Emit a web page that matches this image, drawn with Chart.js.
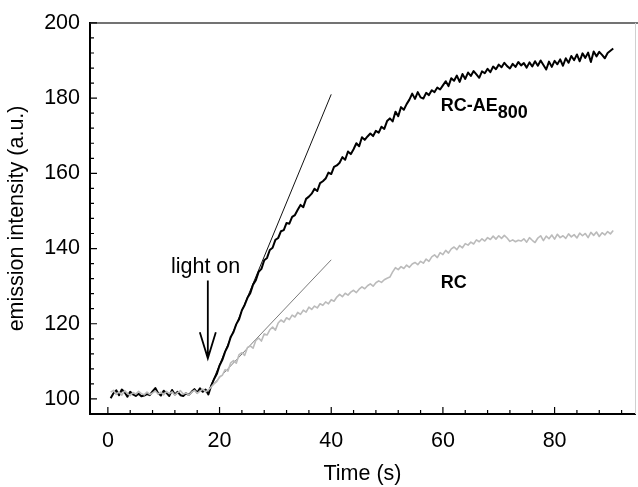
<!DOCTYPE html>
<html>
<head>
<meta charset="utf-8">
<script src="https://cdn.jsdelivr.net/npm/chart.js@4.4.1/dist/chart.umd.min.js"></script>
<style>
  html, body { margin: 0; padding: 0; background: #fff; }
</style>
</head>
<body>
<canvas id="emissionChart" width="638" height="487"></canvas>
<script>
// emission intensity (a.u.), one reading every 0.5 s starting at 0.5 s
const rcAE800 = [
    100.2, 101.5, 102.3, 101.0, 102.5, 101.8, 100.6, 101.9, 101.2, 100.8,
    101.4, 100.7, 100.9, 101.3, 101.0, 102.0, 102.9, 101.5, 100.9, 102.2,
    101.6, 100.8, 102.4, 101.2, 101.9, 101.0, 100.8, 101.5, 101.1, 101.9,
    102.6, 101.7, 102.8, 101.9, 102.5, 101.2, 103.5, 105.2, 106.6, 108.9,
    110.4, 112.6, 114.1, 116.5, 117.8, 119.9, 121.2, 123.6, 125.0, 126.9,
    128.1, 130.4, 131.6, 133.8, 134.6, 136.9, 137.5, 139.6, 140.2, 142.3,
    142.8, 144.6, 144.9, 146.8, 146.6, 148.4, 148.9, 150.3, 151.6, 151.0,
    153.2, 153.8, 154.6, 155.9, 155.3, 157.4, 157.9, 158.6, 160.2, 159.8,
    161.7, 162.1, 162.8, 164.3, 163.6, 165.8, 165.1, 166.4, 168.0, 167.2,
    169.6, 168.9, 169.8, 170.6, 169.9, 171.3, 170.8, 172.4, 171.8, 173.9,
    174.6, 173.8, 176.4, 175.2, 177.6, 176.9, 178.4, 179.6, 181.2, 179.8,
    181.6, 180.2, 179.9, 181.4, 180.8, 182.1, 181.6, 182.8, 182.3, 183.4,
    184.5, 183.2, 185.3, 184.6, 186.0, 184.3, 186.4, 185.1, 186.8, 185.9,
    187.2, 186.3, 185.4, 187.1, 186.6, 187.8, 186.9, 188.4, 187.7, 188.9,
    188.2, 189.4, 188.5, 187.9, 189.1, 188.3, 189.6, 188.7, 189.3, 188.1,
    189.5, 188.4, 189.8, 188.6, 190.0, 188.8, 187.6, 189.7, 188.3, 189.9,
    189.0, 190.3, 188.6, 190.6, 189.4, 191.2, 190.1, 191.6, 189.8, 191.9,
    190.7, 192.1, 189.6, 192.4, 191.1, 192.3, 191.5, 190.6, 192.0, 192.6,
    193.2
];
const rc = [
    101.8, 102.3, 101.2, 101.9, 101.0, 102.2, 101.5, 100.9, 101.7, 101.3,
    102.0, 101.4, 101.1, 101.8, 101.2, 101.6, 102.1, 101.3, 101.8, 101.1,
    102.0, 101.4, 101.9, 101.0, 101.7, 102.2, 101.3, 101.6, 101.0, 101.8,
    102.3, 101.5, 102.1, 102.6, 101.9, 102.4, 103.2, 104.0, 104.6, 105.9,
    106.3, 107.8, 107.4, 109.6, 110.2, 109.5, 111.8, 112.3, 111.6, 113.7,
    114.1, 113.5, 115.6, 116.2, 115.4, 117.3, 117.0, 118.4, 119.1, 118.3,
    120.2, 121.0, 120.4, 121.6, 121.1, 122.3, 121.8, 123.0, 122.5, 123.6,
    123.1, 124.4, 123.8, 124.7, 124.2, 125.3, 124.9, 125.8, 125.3, 126.4,
    126.0, 127.1, 127.8, 127.2, 128.1, 127.6, 128.4, 128.9, 128.3, 129.2,
    129.8, 129.3, 130.1, 130.6, 130.0, 130.9, 131.4, 131.0, 131.7, 132.1,
    132.4, 133.8, 134.9, 134.4, 135.2, 134.7, 135.6, 135.0, 135.9, 136.3,
    135.7, 136.6, 136.1, 137.2, 136.6, 137.8, 138.3, 137.6, 138.9, 138.4,
    139.5, 138.8, 139.9, 140.4, 139.7, 140.8, 140.2, 141.3, 140.9, 141.7,
    141.2, 142.3, 141.8, 142.6, 142.0, 142.9, 142.4, 143.3, 142.5, 143.4,
    142.7, 143.5, 142.8, 141.9, 142.3, 141.8, 142.2, 142.0, 142.6, 141.7,
    142.9, 142.2, 141.6, 142.8, 143.4, 142.1, 143.3, 142.6, 143.6, 142.5,
    143.8, 142.9, 143.4, 142.7, 143.9, 143.1, 143.7, 142.8, 144.1, 143.4,
    144.0, 142.9, 144.3, 143.5, 144.4, 143.2, 144.2, 143.6, 144.5, 143.9,
    144.8
];
const time = rcAE800.map((_, i) => 0.5 + i * 0.5);

// initial slopes (two end points each)
const fitTime = [18.3, 40];
const fitAE800 = [103, 181];
const fitRC = [103, 137];

// annotations, in data units
const arrowX = 17.9, arrowTop = 131.5, arrowTip = 110.8;
const lightOnAt = [17.5, 133.6];
const labelAE800At = [59.6, 176.5];
const labelRCAt = [59.6, 129.4];

const FONT = '"Liberation Sans", Arial, sans-serif';
const SIZE = 21.5;

const toXY = (xs, ys) => xs.map((x, i) => ({ x: x, y: ys[i] }));

const decorations = {
    id: 'decorations',
    afterDraw(chart) {
        const { ctx, chartArea: a, scales: { x, y } } = chart;
        ctx.save();
        // frame: top and right
        ctx.strokeStyle = '#444';
        ctx.lineWidth = 1.5;
        ctx.beginPath();
        ctx.moveTo(a.left, a.top);
        ctx.lineTo(chart.width, a.top);
        ctx.stroke();
        ctx.strokeStyle = '#d0d0d0';
        ctx.lineWidth = 1;
        ctx.beginPath();
        ctx.moveTo(a.right + 0.5, a.top);
        ctx.lineTo(a.right + 0.5, a.bottom);
        ctx.stroke();

        // inside ticks, major every 20, minor every 4
        ctx.strokeStyle = '#000';
        ctx.lineWidth = 1.2;
        ctx.beginPath();
        for (let v = 0; v <= 92; v += 4) {
            const px = x.getPixelForValue(v);
            const len = v % 20 === 0 ? 7 : 4;
            ctx.moveTo(px, a.bottom);
            ctx.lineTo(px, a.bottom - len);
        }
        for (let v = 100; v <= 200; v += 4) {
            const py = y.getPixelForValue(v);
            const len = v % 20 === 0 ? 7 : 4;
            ctx.moveTo(a.left, py);
            ctx.lineTo(a.left + len, py);
        }
        ctx.stroke();

        // arrow
        const ax = x.getPixelForValue(arrowX);
        const aTop = y.getPixelForValue(arrowTop);
        const aTip = y.getPixelForValue(arrowTip);
        ctx.lineWidth = 1.8;
        ctx.beginPath();
        ctx.moveTo(ax, aTop);
        ctx.lineTo(ax, aTip);
        ctx.moveTo(ax - 8, aTip - 26);
        ctx.lineTo(ax, aTip);
        ctx.lineTo(ax + 8, aTip - 26);
        ctx.stroke();

        // texts
        ctx.fillStyle = '#000';
        ctx.textBaseline = 'alphabetic';
        ctx.font = SIZE + 'px ' + FONT;
        ctx.textAlign = 'center';
        ctx.fillText('light on', x.getPixelForValue(lightOnAt[0]), y.getPixelForValue(lightOnAt[1]));

        ctx.textAlign = 'left';
        ctx.font = 'bold 18px ' + FONT;
        const lx = x.getPixelForValue(labelAE800At[0]);
        const ly = y.getPixelForValue(labelAE800At[1]);
        ctx.fillText('RC-AE', lx, ly);
        const w = ctx.measureText('RC-AE').width;
        ctx.fillText('800', lx + w, ly + 7);
        ctx.fillText('RC', x.getPixelForValue(labelRCAt[0]), y.getPixelForValue(labelRCAt[1]));
        ctx.restore();
    }
};

const ctx = document.getElementById('emissionChart');
const emissionChart = new Chart(ctx, {
    type: 'line',
    data: {
        datasets: [{
            label: 'RC',
            data: toXY(time, rc),
            borderColor: '#bbbbbb',
            borderWidth: 1.6
        }, {
            label: 'RC-AE800',
            data: toXY(time, rcAE800),
            borderColor: '#000',
            borderWidth: 2
        }, {
            label: 'RC slope',
            data: toXY(fitTime, fitRC),
            borderColor: '#7a7a7a',
            borderWidth: 1
        }, {
            label: 'RC-AE800 slope',
            data: toXY(fitTime, fitAE800),
            borderColor: '#111',
            borderWidth: 1
        }]
    },
    plugins: [decorations],
    options: {
        responsive: false,
        animation: false,
        layout: { padding: { top: 21, right: 3, bottom: 0, left: 0 } },
        elements: {
            point: { radius: 0 },
            line: { tension: 0, borderJoinStyle: 'round' }
        },
        plugins: {
            legend: { display: false },
            tooltip: { enabled: false }
        },
        scales: {
            x: {
                type: 'linear',
                min: -3.2,
                max: 94.4,
                grid: { display: false, drawTicks: false },
                border: { color: '#000', width: 2 },
                ticks: {
                    stepSize: 20,
                    includeBounds: false,
                    padding: 14,
                    color: '#000',
                    font: { family: FONT, size: SIZE }
                },
                title: {
                    display: true,
                    text: 'Time (s)',
                    color: '#000',
                    font: { family: FONT, size: SIZE },
                    padding: { top: 0, bottom: 0 }
                },
                afterFit(scale) { scale.height = 73; }
            },
            y: {
                min: 96,
                max: 200,
                grid: { display: false, drawTicks: false },
                border: { color: '#000', width: 2 },
                ticks: {
                    stepSize: 20,
                    includeBounds: false,
                    padding: 10,
                    color: '#000',
                    font: { family: FONT, size: SIZE }
                },
                title: {
                    display: true,
                    text: 'emission intensity (a.u.)',
                    color: '#000',
                    font: { family: FONT, size: SIZE },
                    padding: { top: 4.5, bottom: 0 }
                },
                afterFit(scale) { scale.width = 90; }
            }
        }
    }
});
</script>
</body>
</html>
